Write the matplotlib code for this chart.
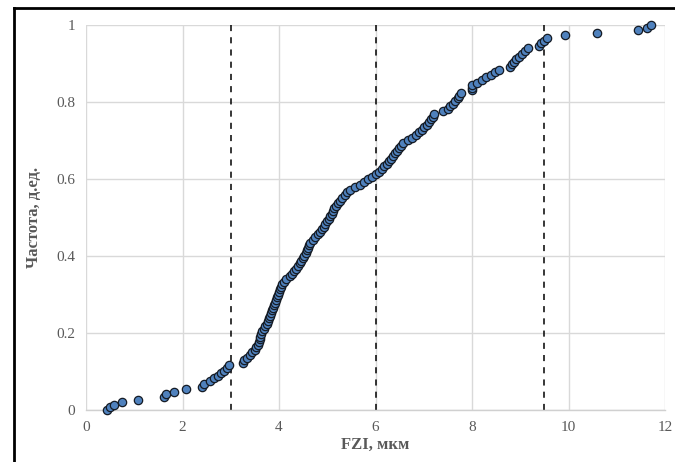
import matplotlib
matplotlib.use("Agg")
import matplotlib.pyplot as plt
from matplotlib.lines import Line2D

plt.rcParams['font.family'] = ['Liberation Serif', 'DejaVu Serif']

fzi = [0.43, 0.50, 0.57, 0.74, 1.07, 1.62, 1.65, 1.83, 2.08, 2.41,
       2.45, 2.57, 2.66, 2.73, 2.80, 2.85, 2.92, 2.96, 3.26, 3.28,
       3.33, 3.40, 3.45, 3.50, 3.53, 3.56, 3.58, 3.60, 3.61, 3.63,
       3.65, 3.68, 3.72, 3.76, 3.78, 3.80, 3.82, 3.84, 3.86, 3.88,
       3.90, 3.92, 3.94, 3.96, 3.98, 4.00, 4.02, 4.04, 4.06, 4.10,
       4.15, 4.22, 4.27, 4.32, 4.36, 4.40, 4.43, 4.46, 4.49, 4.52,
       4.55, 4.58, 4.60, 4.62, 4.65, 4.70, 4.75, 4.80, 4.85, 4.89,
       4.93, 4.96, 5.00, 5.03, 5.06, 5.09, 5.12, 5.15, 5.19, 5.23,
       5.27, 5.31, 5.36, 5.41, 5.47, 5.58, 5.68, 5.76, 5.85, 5.93,
       6.00, 6.07, 6.13, 6.18, 6.23, 6.28, 6.32, 6.36, 6.40, 6.44,
       6.48, 6.52, 6.57, 6.68, 6.76, 6.84, 6.91, 6.96, 7.01, 7.06,
       7.11, 7.15, 7.19, 7.22, 7.40, 7.50, 7.55, 7.60, 7.65, 7.70,
       7.74, 7.78, 7.99, 8.00, 8.01, 8.10, 8.20, 8.30, 8.40, 8.48,
       8.56, 8.78, 8.83, 8.87, 8.92, 8.98, 9.04, 9.10, 9.17, 9.38,
       9.44, 9.50, 9.55, 9.93, 10.60, 11.45, 11.62, 11.72]

freq = [0.000, 0.007, 0.014, 0.020, 0.027, 0.034, 0.041, 0.048, 0.054, 0.061,
        0.068, 0.075, 0.082, 0.088, 0.095, 0.102, 0.109, 0.116, 0.122, 0.129,
        0.136, 0.143, 0.150, 0.156, 0.163, 0.170, 0.177, 0.184, 0.190, 0.197,
        0.204, 0.211, 0.218, 0.224, 0.231, 0.238, 0.245, 0.252, 0.259, 0.265,
        0.272, 0.279, 0.286, 0.293, 0.299, 0.306, 0.313, 0.320, 0.327, 0.333,
        0.340, 0.347, 0.354, 0.361, 0.367, 0.374, 0.381, 0.388, 0.395, 0.401,
        0.408, 0.415, 0.422, 0.429, 0.435, 0.442, 0.449, 0.456, 0.463, 0.469,
        0.476, 0.483, 0.490, 0.497, 0.503, 0.510, 0.517, 0.524, 0.531, 0.537,
        0.544, 0.551, 0.558, 0.565, 0.571, 0.578, 0.585, 0.592, 0.599, 0.605,
        0.612, 0.619, 0.626, 0.633, 0.639, 0.646, 0.653, 0.660, 0.667, 0.673,
        0.680, 0.687, 0.694, 0.701, 0.707, 0.714, 0.721, 0.728, 0.735, 0.741,
        0.748, 0.755, 0.762, 0.769, 0.776, 0.782, 0.789, 0.796, 0.803, 0.810,
        0.816, 0.823, 0.830, 0.837, 0.844, 0.850, 0.857, 0.864, 0.871, 0.878,
        0.884, 0.891, 0.898, 0.905, 0.912, 0.918, 0.925, 0.932, 0.939, 0.946,
        0.952, 0.959, 0.966, 0.973, 0.980, 0.986, 0.993, 1.000]

cutoffs = [3, 6, 9.5]
xticks = [0, 2, 4, 6, 8, 10, 12]
yticks = [0, 0.2, 0.4, 0.6, 0.8, 1.0]
ytick_labels = ['0', '0.2', '0.4', '0.6', '0.8', '1']

fig = plt.figure(figsize=(6.75, 4.62), dpi=100)
ax = fig.add_axes([86/675, 1-410/462, (665-86)/675, (410-25)/462])

ax.set_xlim(0, 12)
ax.set_ylim(0, 1)
ax.set_xticks(xticks)
ax.set_xticklabels([str(t) for t in xticks])
ax.set_yticks(yticks)
ax.set_yticklabels(ytick_labels)
ax.grid(True, color='#d9d9d9', linewidth=1.0)
ax.set_axisbelow(True)
for s in ['top', 'right', 'left']:
    ax.spines[s].set_visible(False)
ax.spines['bottom'].set_color('#d0d0d0')
ax.spines['bottom'].set_linewidth(1.0)
ax.tick_params(axis='both', length=0, labelsize=11, labelcolor='#595959', pad=8)

for c in cutoffs:
    ax.plot([c, c], [0, 1], linestyle=(0, (4, 4)), color='black', linewidth=1.1, zorder=2)

ax.plot(fzi, freq, linestyle='none', marker='o', markersize=6.0,
        markerfacecolor='#4f81bd', markeredgecolor='#151b24', markeredgewidth=0.9,
        zorder=3, clip_on=False)

ax.set_xlabel('FZI, мкм', fontsize=12, fontweight='bold', color='#595959', labelpad=2)
ax.set_ylabel('Частота, д.ед.', fontsize=12, fontweight='bold', color='#595959', labelpad=10)

# outer frame (top and left edges)
fig.add_artist(Line2D([14/675, 1.0], [1-8/462, 1-8/462], transform=fig.transFigure,
                      color='black', linewidth=2.0))
fig.add_artist(Line2D([14/675, 14/675], [0.0, 1-8/462], transform=fig.transFigure,
                      color='black', linewidth=2.0))

fig.savefig('out.png', dpi=100)
